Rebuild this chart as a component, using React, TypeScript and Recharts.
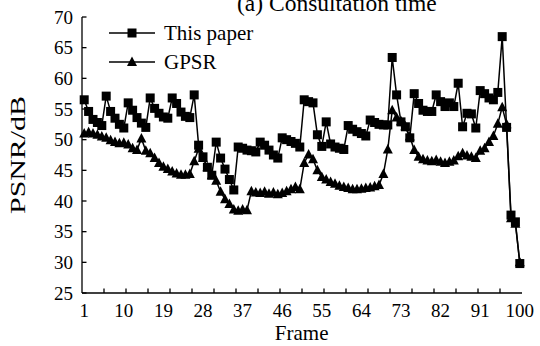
import { LineChart, Line, XAxis, YAxis, Legend } from 'recharts'

const SERIF = '"Liberation Serif", "Times New Roman", serif'

// frame index 1..100
const FRAMES = Array.from({ length: 100 }, (_, i) => i + 1)

const THIS_PAPER = [
  56.5, 54.6, 53.3, 52.8, 52.3, 57.1, 54.6, 53.5, 52.5, 51.9,
  56.0, 54.8, 53.6, 52.7, 52.0, 56.8, 55.1, 54.3, 53.7, 53.5,
  56.8, 55.9, 54.5, 53.8, 53.6, 57.3, 49.1, 47.2, 45.5, 44.2,
  49.6, 47.0, 45.2, 43.5, 41.8, 48.8, 48.6, 48.3, 48.2, 48.0,
  49.6, 49.1, 48.3, 47.5, 47.0, 50.3, 50.0, 49.7, 49.4, 48.8,
  56.5, 56.2, 56.0, 50.8, 48.9, 52.9, 49.3, 48.8, 48.6, 48.4,
  52.3, 51.7, 51.3, 51.0, 50.6, 53.2, 52.8, 52.5, 52.4, 52.4,
  63.4, 57.3, 52.9, 52.1, 50.3, 57.5, 55.9, 54.8, 54.6, 54.6,
  57.3, 56.2, 55.4, 56.0, 55.4, 59.2, 52.1, 54.3, 54.2, 51.9,
  58.0, 57.5, 56.8, 56.5, 57.7, 66.8, 52.0, 37.7, 36.6, 29.8,
]

const GPSR = [
  51.0, 51.2, 51.0, 50.8, 50.5, 50.3, 49.9, 49.6, 49.4, 49.5,
  49.2, 48.6, 48.3, 50.2, 48.2, 47.8, 47.0, 46.2, 45.6, 45.2,
  44.8, 44.5, 44.3, 44.3, 44.4, 46.5, 48.5, 47.0, 45.5, 44.2,
  43.3, 41.5, 40.3, 39.5, 38.6, 38.4, 38.6, 38.5, 41.6, 41.4,
  41.3, 41.5, 41.2, 41.4, 41.1, 41.3, 41.6, 41.9, 42.3, 41.9,
  46.2, 47.6, 46.8, 45.0, 43.9, 43.5, 43.1, 42.8, 42.5, 42.3,
  42.1, 41.9, 41.9, 42.0, 42.1, 42.2, 42.4, 42.6, 44.4, 48.4,
  54.8, 53.6, 53.0, 52.2, 50.5, 48.3, 47.2, 46.8, 46.6, 46.5,
  46.7, 46.4, 46.2, 46.4, 46.6, 47.3, 47.8, 47.4, 47.2, 47.0,
  48.2, 48.6, 49.6, 50.6, 52.6, 55.3, 52.5, 37.2, 36.3, 30.0,
]

const X_LABELS = [1, 10, 19, 28, 37, 46, 55, 64, 73, 82, 91, 100]
const X_MARKS = [5.5, 10.5, 15.5, 20.5, 25.5, 30.5, 35.5, 40.5, 45.5, 50.5, 55.5, 60.5, 65.5, 70.5, 75.5, 80.5, 85.5, 90.5, 95.5]
const Y_TICKS = [25, 30, 35, 40, 45, 50, 55, 60, 65, 70]

const data = FRAMES.map((f, i) => ({ frame: f, paper: THIS_PAPER[i], gpsr: GPSR[i] }))
const xTicks = [...X_LABELS, ...X_MARKS].sort((a, b) => a - b)

function SquareDot(props: any) {
  const { cx, cy, index } = props
  if (cx == null || cy == null) return null
  return <rect key={`sq-${index}`} x={cx - 4.5} y={cy - 4.5} width={9} height={9} fill="#000" />
}

function TriangleDot(props: any) {
  const { cx, cy, index } = props
  if (cx == null || cy == null) return null
  return (
    <polygon
      key={`tr-${index}`}
      points={`${cx},${cy - 5.5} ${cx + 5},${cy + 4} ${cx - 5},${cy + 4}`}
      fill="#000"
    />
  )
}

function XTick(props: any) {
  const { x, y, payload } = props
  if (X_LABELS.includes(payload.value)) {
    return (
      <text x={x} y={y + 24} textAnchor="middle" fontFamily={SERIF} fontSize={19} fill="#000">
        {payload.value}
      </text>
    )
  }
  return <line x1={x} x2={x} y1={y} y2={y - 4.5} stroke="#000" strokeWidth={1.3} />
}

function YTick(props: any) {
  const { x, y, payload } = props
  return (
    <g>
      <line x1={x} x2={x + 4.5} y1={y} y2={y} stroke="#000" strokeWidth={1.3} />
      <text x={x - 9} y={y + 6.5} textAnchor="end" fontFamily={SERIF} fontSize={19} fill="#000">
        {payload.value}
      </text>
    </g>
  )
}

function LegendBox() {
  const rows = [
    { name: 'This paper', marker: <rect x={18.5} y={2.5} width={9} height={9} fill="#000" /> },
    { name: 'GPSR', marker: <polygon points="23,1.5 28,11 18,11" fill="#000" /> },
  ]
  return (
    <div style={{ fontFamily: SERIF, fontSize: 21, color: '#000' }}>
      {rows.map((r) => (
        <div key={r.name} style={{ display: 'flex', alignItems: 'center', height: 28.7 }}>
          <svg width={46} height={14} style={{ display: 'block' }}>
            <line x1={0} x2={46} y1={7} y2={7} stroke="#000" strokeWidth={1.5} />
            {r.marker}
          </svg>
          <span style={{ marginLeft: 9, lineHeight: '21px' }}>{r.name}</span>
        </div>
      ))}
    </div>
  )
}

export default function App() {
  return (
    <div style={{ position: 'absolute', left: 0, top: 0, width: 540, height: 346, background: '#fff' }}>
      {/* chart title, cut by the top edge as in the source figure */}
      <svg width={540} height={20} style={{ position: 'absolute', left: 0, top: 0, display: 'block' }}>
        <text x={237} y={11} fontFamily={SERIF} fontSize={23.5} fill="#000">
          (a) Consultation time
        </text>
      </svg>
      <LineChart width={540} height={346} data={data} margin={{ top: 17, right: 18, bottom: 0, left: 0 }}>
        <XAxis
          xAxisId="top"
          orientation="top"
          type="number"
          dataKey="frame"
          domain={[0.5, 100.5]}
          height={0}
          tick={false}
          tickLine={false}
          axisLine={{ stroke: '#000', strokeWidth: 1.3 }}
        />
        <XAxis
          xAxisId="main"
          type="number"
          dataKey="frame"
          domain={[0.5, 100.5]}
          ticks={xTicks}
          interval={0}
          height={53}
          tickSize={0}
          tickMargin={0}
          tickLine={false}
          tick={<XTick />}
          axisLine={{ stroke: '#000', strokeWidth: 1.3 }}
          label={{
            content: () => (
              <text x={301.7} y={340} textAnchor="middle" fontFamily={SERIF} fontSize={21} fill="#000">
                Frame
              </text>
            ),
          }}
        />
        <YAxis
          yAxisId="main"
          type="number"
          domain={[25, 70]}
          ticks={Y_TICKS}
          interval={0}
          width={82}
          tickSize={0}
          tickMargin={0}
          tickLine={false}
          tick={<YTick />}
          axisLine={{ stroke: '#000', strokeWidth: 1.3 }}
          label={{
            content: () => (
              <text
                x={25}
                y={155}
                transform="rotate(-90, 25, 155)"
                textAnchor="middle"
                fontFamily={SERIF}
                fontSize={22}
                textLength={118}
                lengthAdjust="spacingAndGlyphs"
                fill="#000"
              >
                PSNR/dB
              </text>
            ),
          }}
        />
        <YAxis
          yAxisId="right"
          orientation="right"
          type="number"
          domain={[25, 70]}
          width={0}
          tick={false}
          tickLine={false}
          axisLine={{ stroke: '#000', strokeWidth: 1.3 }}
        />
        <Legend
          layout="vertical"
          align="center"
          verticalAlign="middle"
          content={<LegendBox />}
          wrapperStyle={{ position: 'absolute', left: 109, top: 19, width: 'auto' }}
        />
        <Line
          xAxisId="main"
          yAxisId="main"
          type="linear"
          dataKey="gpsr"
          name="GPSR"
          stroke="#000"
          strokeWidth={1.5}
          dot={TriangleDot}
          activeDot={false}
          isAnimationActive={false}
        />
        <Line
          xAxisId="main"
          yAxisId="main"
          type="linear"
          dataKey="paper"
          name="This paper"
          stroke="#000"
          strokeWidth={1.5}
          dot={SquareDot}
          activeDot={false}
          isAnimationActive={false}
        />
      </LineChart>
    </div>
  )
}
